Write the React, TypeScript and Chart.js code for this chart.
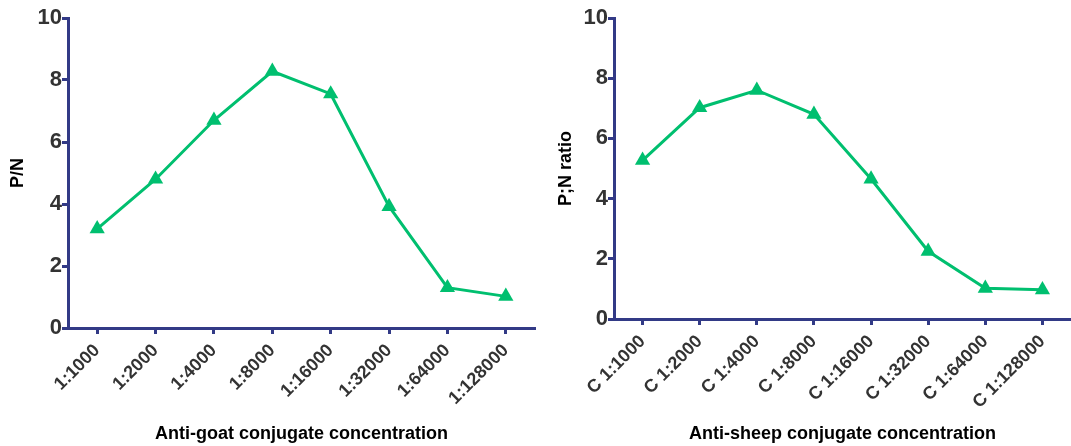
import React, { useEffect, useRef } from "react";
import { Chart, registerables } from "chart.js";

Chart.register(...registerables);

// Dilution series shared by both panels
const goatDilutions = ["1:1000", "1:2000", "1:4000", "1:8000", "1:16000", "1:32000", "1:64000", "1:128000"];
const sheepDilutions = ["C 1:1000", "C 1:2000", "C 1:4000", "C 1:8000", "C 1:16000", "C 1:32000", "C 1:64000", "C 1:128000"];

// P/N values for each conjugate
const goatPN = [3.2, 4.8, 6.7, 8.28, 7.55, 3.92, 1.3, 1.02];
const sheepPN = [5.27, 7.02, 7.6, 6.8, 4.65, 2.25, 1.02, 0.97];

// Y axis range
const yMin = 0;
const yMax = 10;
const yStep = 2;

const FONT = '"Liberation Sans", Arial, Helvetica, sans-serif';
const AXIS_COLOR = "#323a86";
const LINE_COLOR = "rgb(0,191,111)";
const TICK_COLOR = "#333333";

type PanelProps = {
  labels: string[];
  values: number[];
  yTitle: string;
  xTitle: string;
  width: number;
  height: number;
  yAxisWidth: number;
  xAxisHeight: number;
  yTitleOffset: number;
  rightPad: number;
};

function Panel(props: PanelProps) {
  const ref = useRef<HTMLCanvasElement | null>(null);

  useEffect(() => {
    if (!ref.current) return;
    const chart = new Chart(ref.current, {
      type: "line",
      data: {
        labels: props.labels,
        datasets: [
          {
            data: props.values,
            borderColor: LINE_COLOR,
            backgroundColor: LINE_COLOR,
            borderWidth: 3,
            tension: 0,
            pointStyle: "triangle",
            pointRadius: 8.8,
            pointHoverRadius: 8.8,
            pointBorderWidth: 0,
            pointBackgroundColor: LINE_COLOR,
            clip: false,
          },
        ],
      },
      options: {
        animation: false,
        responsive: false,
        maintainAspectRatio: false,
        events: [],
        layout: {
          autoPadding: false,
          padding: { top: 18, left: 0, right: props.rightPad, bottom: 0 },
        },
        plugins: {
          legend: { display: false },
          tooltip: { enabled: false },
          title: { display: false },
        },
        scales: {
          x: {
            type: "category",
            offset: true,
            border: { display: true, color: AXIS_COLOR, width: 3 },
            grid: {
              drawOnChartArea: false,
              drawTicks: true,
              tickLength: 6,
              tickWidth: 3,
              tickColor: AXIS_COLOR,
              color: AXIS_COLOR,
              offset: false,
            },
            ticks: {
              autoSkip: false,
              minRotation: 45,
              maxRotation: 45,
              padding: 6,
              color: TICK_COLOR,
              font: { family: FONT, size: 18, weight: "bold" },
            },
            title: {
              display: true,
              text: props.xTitle,
              color: "#000000",
              font: { family: FONT, size: 18, weight: "bold", lineHeight: 1 },
              padding: { top: 0, bottom: 3 },
            },
            afterFit: (scale: any) => {
              scale.height = props.xAxisHeight;
              scale.paddingLeft = 0;
              scale.paddingRight = 0;
            },
          },
          y: {
            min: yMin,
            max: yMax,
            border: { display: true, color: AXIS_COLOR, width: 3 },
            grid: {
              drawOnChartArea: false,
              drawTicks: true,
              tickLength: 6,
              tickWidth: 3,
              tickColor: AXIS_COLOR,
              color: AXIS_COLOR,
            },
            ticks: {
              stepSize: yStep,
              padding: 0,
              color: TICK_COLOR,
              font: { family: FONT, size: 22, weight: "bold" },
            },
            title: {
              display: true,
              text: props.yTitle,
              color: "#000000",
              font: { family: FONT, size: 18, weight: "bold", lineHeight: 1 },
              padding: { top: props.yTitleOffset, bottom: 0 },
            },
            afterFit: (scale: any) => {
              scale.width = props.yAxisWidth;
            },
          },
        },
      },
    });
    return () => chart.destroy();
  }, []);

  return (
    <canvas
      ref={ref}
      width={props.width}
      height={props.height}
      style={{ display: "block", width: props.width, height: props.height }}
    />
  );
}

export default function App() {
  return (
    <div
      style={{
        position: "fixed",
        left: 0,
        top: 0,
        width: 1071,
        height: 446,
        display: "flex",
        background: "#ffffff",
      }}
    >
      <Panel
        labels={goatDilutions}
        values={goatPN}
        yTitle="P/N"
        xTitle="Anti-goat conjugate concentration"
        width={540}
        height={446}
        yAxisWidth={68}
        xAxisHeight={118}
        yTitleOffset={9.5}
        rightPad={5}
      />
      <Panel
        labels={sheepDilutions}
        values={sheepPN}
        yTitle="P;N ratio"
        xTitle="Anti-sheep conjugate concentration"
        width={531}
        height={446}
        yAxisWidth={74}
        xAxisHeight={127}
        yTitleOffset={17}
        rightPad={0}
      />
    </div>
  );
}
